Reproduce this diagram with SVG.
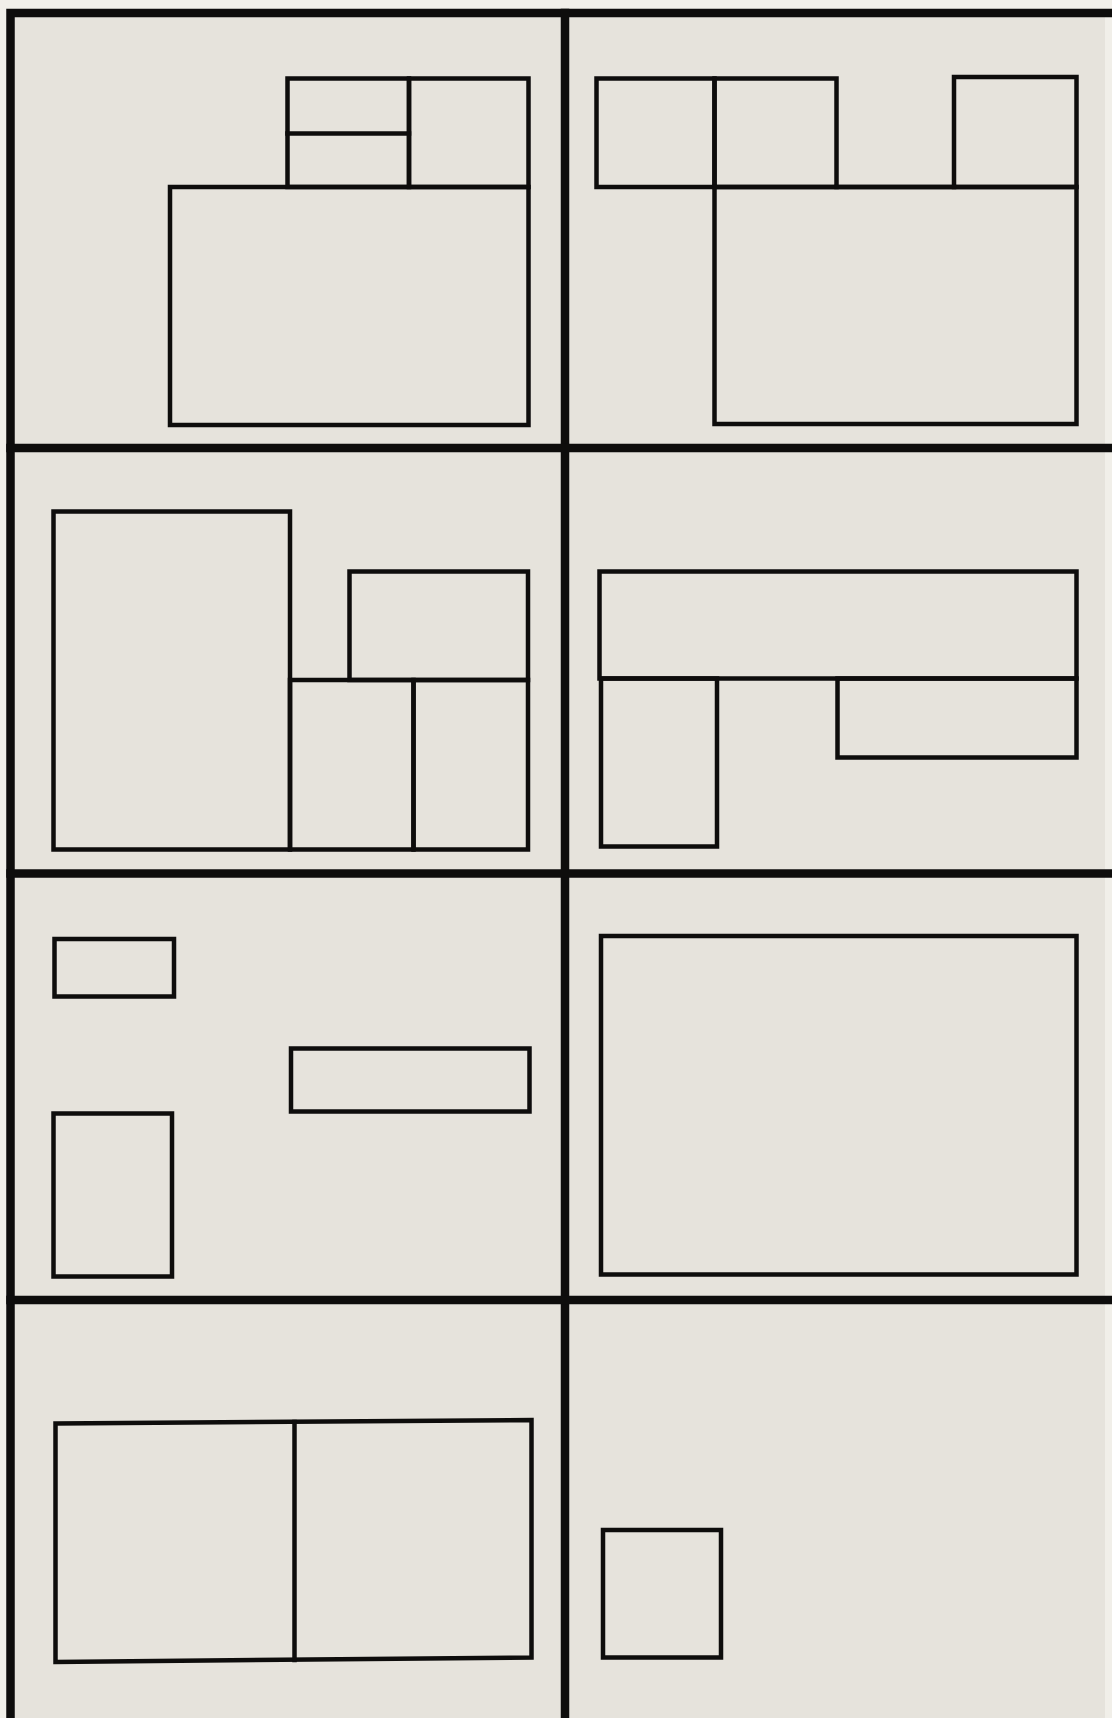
<svg xmlns="http://www.w3.org/2000/svg" width="1112" height="1718" viewBox="0 0 1112 1718">
<style>
.bg{fill:#f1efe9}
.paper{fill:#e6e3dc}
.frame{fill:none;stroke:#0e0d0c;stroke-width:8.5;stroke-linecap:square}
.box{fill:none;stroke:#0e0d0c;stroke-width:4.5;stroke-linejoin:miter;stroke-linecap:square}
</style>
<rect class="bg" x="0" y="0" width="1112" height="1718"/>
<rect class="paper" x="10" y="13" width="1095" height="1705"/>
<g id="frame">
<path class="frame" d="M10.5,1718 V13 H1112"/>
<path class="frame" d="M565,13 V1718"/>
<path class="frame" d="M10.5,448 H1112"/>
<path class="frame" d="M10.5,873.5 H1112"/>
<path class="frame" d="M10.5,1300 H1112"/>
</g>
<g id="panel1">
<rect class="box" x="170" y="187" width="358.5" height="238"/>
<rect class="box" x="287.5" y="78.5" width="121.5" height="108.5"/>
<path class="box" d="M287.5,133.5 H409"/>
<rect class="box" x="409" y="78.5" width="119.5" height="108.5"/>
</g>
<g id="panel2">
<rect class="box" x="596.5" y="78.5" width="118" height="108.5"/>
<rect class="box" x="714.5" y="78.5" width="122" height="108.5"/>
<rect class="box" x="954" y="77" width="122.5" height="110"/>
<rect class="box" x="714.5" y="187" width="362" height="237"/>
<path class="box" d="M836.5,187 H954"/>
</g>
<g id="panel3">
<rect class="box" x="53.5" y="511.5" width="236.5" height="338"/>
<rect class="box" x="349.5" y="571.5" width="178.5" height="108.5"/>
<rect class="box" x="290" y="680" width="123.5" height="169.5"/>
<rect class="box" x="413.5" y="680" width="114.5" height="169.5"/>
</g>
<g id="panel4">
<rect class="box" x="599.5" y="571.5" width="477" height="107"/>
<rect class="box" x="601" y="678.5" width="116" height="168"/>
<rect class="box" x="837.5" y="678.5" width="239" height="79"/>
</g>
<g id="panel5">
<rect class="box" x="54.5" y="939" width="119.5" height="57.5"/>
<rect class="box" x="53.5" y="1113.5" width="118.5" height="163"/>
<rect class="box" x="291" y="1048.5" width="238.5" height="63"/>
</g>
<g id="panel6">
<rect class="box" x="601" y="936" width="475.5" height="338.5"/>
</g>
<g id="panel7">
<path class="box" d="M55.5,1423.5 L531.5,1420 L531.5,1657.5 L55.5,1662 Z"/>
<path class="box" d="M294.5,1422 V1660"/>
</g>
<g id="panel8">
<rect class="box" x="603" y="1530" width="118" height="127.5"/>
</g>
</svg>
